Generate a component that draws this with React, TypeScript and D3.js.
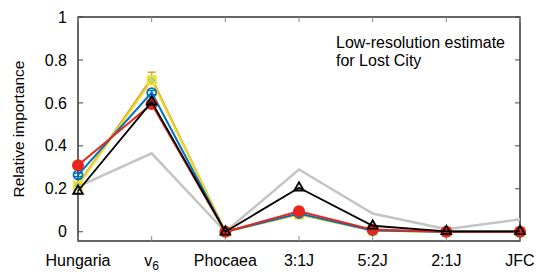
import React, { useRef, useEffect } from 'react';
import * as d3 from 'd3';

const categories = ['Hungaria', 'v6', 'Phocaea', '3:1J', '5:2J', '2:1J', 'JFC'];
const yTicks = [0, 0.2, 0.4, 0.6, 0.8, 1];

const grayVals = [0.21, 0.365, 0.0, 0.29, 0.085, 0.012, 0.058];
const orangeVals = [0.22, 0.715, 0.0, 0.082, 0.006, 0.0, 0.0];
const orangeErr = [0.01, 0.028, 0.003, 0.006, 0.003, 0.002, 0.002];
const yellowVals = [0.215, 0.705, 0.0, 0.08, 0.005, 0.0, 0.0];
const blueVals = [0.265, 0.648, 0.0, 0.085, 0.006, 0.0, 0.0];
const blueErr = [0.008, 0.01, 0.002, 0.005, 0.002, 0.002, 0.002];
const redVals = [0.31, 0.595, 0.0, 0.095, 0.01, 0.0, 0.0];
const blackVals = [0.19, 0.605, 0.0, 0.205, 0.028, 0.002, 0.002];

export default function App() {
  const ref = useRef<SVGSVGElement>(null);

  useEffect(() => {
    const width = 548;
    const height = 274;
    const margin = { top: 17, right: 28, bottom: 33, left: 78 };
    const svg = d3.select(ref.current);
    svg.selectAll('*').remove();

    const x = d3.scaleLinear().domain([0, categories.length - 1]).range([margin.left, width - margin.right]);
    const y = d3.scaleLinear().domain([-0.043, 1]).range([height - margin.bottom, margin.top]);

    const g = svg.append('g').attr('font-family', 'Liberation Sans, Arial, sans-serif');

    // frame
    g.append('rect')
      .attr('x', x(0)).attr('y', y(1))
      .attr('width', x(6) - x(0)).attr('height', y(-0.043) - y(1))
      .attr('fill', 'none').attr('stroke', '#000').attr('stroke-width', 1.2);

    // ticks
    yTicks.forEach(t => {
      g.append('line').attr('x1', x(0)).attr('x2', x(0) + 5).attr('y1', y(t)).attr('y2', y(t)).attr('stroke', '#444');
      g.append('line').attr('x1', x(6)).attr('x2', x(6) - 5).attr('y1', y(t)).attr('y2', y(t)).attr('stroke', '#444');
      g.append('text').attr('x', x(0) - 11).attr('y', y(t)).attr('dy', '0.35em')
        .attr('text-anchor', 'end').attr('font-size', 16).text(String(t));
    });
    categories.forEach((c, i) => {
      g.append('line').attr('x1', x(i)).attr('x2', x(i)).attr('y1', y(-0.043)).attr('y2', y(-0.043) - 5).attr('stroke', '#888');
      g.append('line').attr('x1', x(i)).attr('x2', x(i)).attr('y1', y(1)).attr('y2', y(1) + 5).attr('stroke', '#888');
      const t = g.append('text').attr('x', x(i)).attr('y', 266).attr('text-anchor', 'middle').attr('font-size', 16);
      if (c === 'v6') {
        t.append('tspan').text('v');
        t.append('tspan').attr('font-size', 12).attr('dy', 4).text('6');
      } else {
        t.text(c);
      }
    });

    g.append('text')
      .attr('transform', `translate(24,${(y(1) + y(-0.043)) / 2}) rotate(-90)`)
      .attr('text-anchor', 'middle').attr('font-size', 15.5).text('Relative importance');

    g.append('text').attr('x', 336).attr('y', 48).attr('font-size', 16).text('Low-resolution estimate');
    g.append('text').attr('x', 336).attr('y', 66).attr('font-size', 16).text('for Lost City');

    const line = d3.line<number>().x((d, i) => x(i)).y(d => y(d));
    const drawLine = (vals: number[], color: string, w: number) =>
      g.append('path').datum(vals).attr('d', line).attr('fill', 'none').attr('stroke', color).attr('stroke-width', w);

    const drawErr = (vals: number[], errs: number[], color: string) => {
      vals.forEach((v, i) => {
        const e = errs[i];
        g.append('line').attr('x1', x(i)).attr('x2', x(i)).attr('y1', y(v - e)).attr('y2', y(v + e)).attr('stroke', color).attr('stroke-width', 1.5);
        [v - e, v + e].forEach(yy => g.append('line').attr('x1', x(i) - 4).attr('x2', x(i) + 4).attr('y1', y(yy)).attr('y2', y(yy)).attr('stroke', color).attr('stroke-width', 1.5));
      });
    };

    drawLine(grayVals, '#c4c4c4', 2.5);

    drawLine(orangeVals, '#d8a21c', 2);
    drawErr(orangeVals, orangeErr, '#d8a21c');

    drawLine(yellowVals, '#f2d82a', 2);
    yellowVals.forEach((v, i) => {
      g.append('rect').attr('x', x(i) - 5).attr('y', y(v) - 5).attr('width', 10).attr('height', 10).attr('fill', '#f2e030');
      g.append('path').attr('d', d3.symbol(d3.symbolCross, 18)()).attr('transform', `translate(${x(i)},${y(v)})`)
        .attr('fill', 'none').attr('stroke', '#4dbeee').attr('stroke-width', 1).attr('stroke-dasharray', '1,1');
    });

    drawLine(blueVals, '#0072bd', 2);
    drawErr(blueVals, blueErr, '#0072bd');
    blueVals.forEach((v, i) => {
      g.append('circle').attr('cx', x(i)).attr('cy', y(v)).attr('r', 4.5).attr('fill', 'none').attr('stroke', '#0072bd').attr('stroke-width', 1.8);
    });

    drawLine(redVals, '#e8251c', 2);
    redVals.forEach((v, i) => {
      g.append('circle').attr('cx', x(i)).attr('cy', y(v)).attr('r', 6).attr('fill', '#e8251c');
    });

    drawLine(blackVals, '#000', 1.8);
    const tri = d3.symbol(d3.symbolTriangle, 40);
    blackVals.forEach((v, i) => {
      g.append('path').attr('d', tri()).attr('transform', `translate(${x(i)},${y(v)})`)
        .attr('fill', 'none').attr('stroke', '#000').attr('stroke-width', 1.8);
    });
  }, []);

  return (
    <div>
      <svg ref={ref} width={548} height={274} style={{ display: 'block', marginLeft: -8, marginTop: -8 }} />
    </div>
  );
}
